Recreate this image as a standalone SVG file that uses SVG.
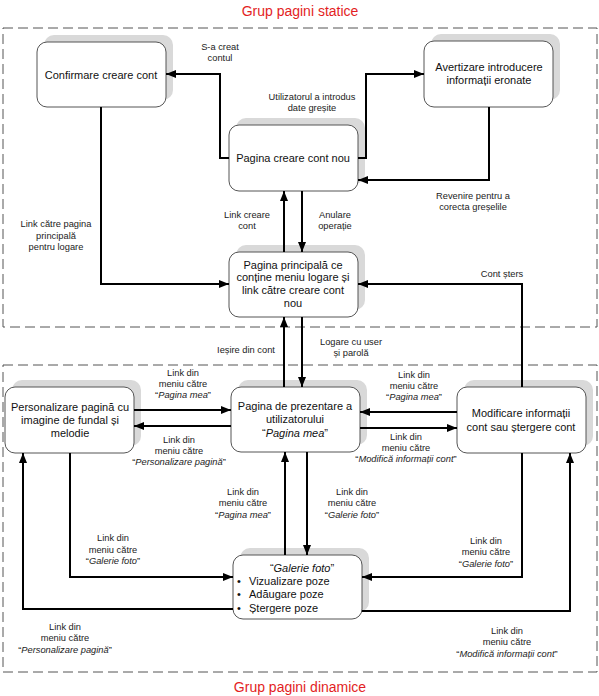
<svg xmlns="http://www.w3.org/2000/svg" width="599" height="696" viewBox="0 0 599 696">
<defs>
<marker id="arr" markerUnits="userSpaceOnUse" markerWidth="11" markerHeight="9" refX="10" refY="4" orient="auto">
<path d="M0,0 L10,4 L0,8 z" fill="#000"/>
</marker>
<style>
.title{font-family:"Liberation Sans",Arial,sans-serif;font-size:14px;fill:#e31e24;text-anchor:middle}
.grp{fill:none;stroke:#555;stroke-width:1;stroke-dasharray:10,5}
.sh{fill:#d9d9d9}
.box{fill:#fff;stroke:#555;stroke-width:1}
.nt{font-family:"Liberation Sans",Arial,sans-serif;font-size:11px;fill:#111;text-anchor:middle}
.bl{font-family:"Liberation Sans",Arial,sans-serif;font-size:11px;fill:#111}
.lb{font-family:"Liberation Sans",Arial,sans-serif;font-size:9.3px;fill:#222;text-anchor:middle}
.it{font-style:italic}
.c{fill:none;stroke:#000;stroke-width:2;marker-end:url(#arr)}
</style>
</defs>
<rect width="599" height="696" fill="#fff"/>
<text class="title" x="300" y="16">Grup pagini statice</text>
<text class="title" x="300" y="692">Grup pagini dinamice</text>
<rect class="grp" x="3" y="28" width="594" height="299"/>
<rect class="grp" x="3" y="365" width="594" height="307"/>

<g id="n-confirmare">
<rect class="sh" x="44" y="35" width="129" height="65" rx="10"/>
<rect class="box" x="37" y="42" width="129" height="65" rx="10"/>
<text class="nt" x="101" y="79">Confirmare creare cont</text>
</g>
<g id="n-avertizare">
<rect class="sh" x="431" y="34" width="129" height="66" rx="10"/>
<rect class="box" x="424" y="41" width="129" height="66" rx="10"/>
<text class="nt" x="489" y="71">Avertizare introducere</text>
<text class="nt" x="489" y="84">informații eronate</text>
</g>
<g id="n-creare">
<rect class="sh" x="236" y="118" width="129" height="66" rx="10"/>
<rect class="box" x="229" y="125" width="129" height="66" rx="10"/>
<text class="nt" x="293" y="162">Pagina creare cont nou</text>
</g>
<g id="n-principala">
<rect class="sh" x="236" y="245" width="129" height="65" rx="10"/>
<rect class="box" x="229" y="252" width="129" height="65" rx="10"/>
<text class="nt" x="293" y="269">Pagina principală ce</text>
<text class="nt" x="293" y="281">conține meniu logare și</text>
<text class="nt" x="293" y="294">link către creare cont</text>
<text class="nt" x="293" y="307">nou</text>
</g>
<g id="n-prezentare">
<rect class="sh" x="238" y="380" width="129" height="65" rx="10"/>
<rect class="box" x="231" y="387" width="129" height="65" rx="10"/>
<text class="nt" x="295" y="410">Pagina de prezentare a</text>
<text class="nt" x="295" y="423">utilizatorului</text>
<text class="nt" x="295" y="437">“<tspan class="it">Pagina mea</tspan>”</text>
</g>
<g id="n-personalizare">
<rect class="sh" x="12" y="380" width="129" height="66" rx="10"/>
<rect class="box" x="5" y="387" width="129" height="66" rx="10"/>
<text class="nt" x="70" y="411">Personalizare pagină cu</text>
<text class="nt" x="70" y="424">imagine de fundal și</text>
<text class="nt" x="70" y="437">melodie</text>
</g>
<g id="n-modificare">
<rect class="sh" x="464" y="380" width="129" height="66" rx="10"/>
<rect class="box" x="457" y="387" width="129" height="66" rx="10"/>
<text class="nt" x="521" y="417">Modificare informații</text>
<text class="nt" x="521" y="431">cont sau ștergere cont</text>
</g>
<g id="n-galerie">
<rect class="sh" x="240" y="548" width="129" height="64" rx="10"/>
<rect class="box" x="233" y="555" width="129" height="64" rx="10"/>
<text class="nt" x="302" y="572">“<tspan class="it">Galerie foto</tspan>”</text>
<text class="bl" x="237" y="585">•</text>
<text class="bl" x="249" y="585">Vizualizare poze</text>
<text class="bl" x="237" y="598">•</text>
<text class="bl" x="249" y="598">Adăugare poze</text>
<text class="bl" x="237" y="612">•</text>
<text class="bl" x="249" y="612">Ștergere poze</text>
</g>

<g id="connectors">
<polyline class="c" points="229,158 220,158 220,74 166,74"/>
<polyline class="c" points="358,158 366,158 366,74 424,74"/>
<polyline class="c" points="489,107 489,180 358,180"/>
<polyline class="c" points="284,252 284,191"/>
<polyline class="c" points="302,191 302,252"/>
<polyline class="c" points="101,107 101,284 229,284"/>
<polyline class="c" points="522,387 522,284 358,284"/>
<polyline class="c" points="284,387 284,317"/>
<polyline class="c" points="302,317 302,387"/>
<polyline class="c" points="134,410 231,410"/>
<polyline class="c" points="231,426 134,426"/>
<polyline class="c" points="457,412 360,412"/>
<polyline class="c" points="360,428 457,428"/>
<polyline class="c" points="285,555 285,452"/>
<polyline class="c" points="307,452 307,555"/>
<polyline class="c" points="70,453 70,577 233,577"/>
<polyline class="c" points="233,609 23,609 23,453"/>
<polyline class="c" points="522,453 522,577 362,577"/>
<polyline class="c" points="362,611 570,611 570,453"/>
</g>

<g id="labels">
<text class="lb" x="220" y="50">S-a creat</text>
<text class="lb" x="220" y="61">contul</text>
<text class="lb" x="312" y="100">Utilizatorul a introdus</text>
<text class="lb" x="312" y="111">date greșite</text>
<text class="lb" x="473" y="199">Revenire pentru a</text>
<text class="lb" x="473" y="210">corecta greșelile</text>
<text class="lb" x="247" y="218">Link creare</text>
<text class="lb" x="247" y="229">cont</text>
<text class="lb" x="335" y="218">Anulare</text>
<text class="lb" x="335" y="229">operație</text>
<text class="lb" x="56" y="227">Link către pagina</text>
<text class="lb" x="56" y="239">principală</text>
<text class="lb" x="56" y="250">pentru logare</text>
<text class="lb" x="502" y="277">Cont șters</text>
<text class="lb" x="246" y="353">Ieșire din cont</text>
<text class="lb" x="351" y="345">Logare cu user</text>
<text class="lb" x="351" y="356">și parolă</text>
<text class="lb" x="183" y="376">Link din</text>
<text class="lb" x="183" y="387">meniu către</text>
<text class="lb" x="183" y="398">“<tspan class="it">Pagina mea</tspan>”</text>
<text class="lb" x="179" y="443">Link din</text>
<text class="lb" x="179" y="454">meniu către</text>
<text class="lb" x="179" y="465">“<tspan class="it">Personalizare pagină</tspan>”</text>
<text class="lb" x="414" y="378">Link din</text>
<text class="lb" x="414" y="389">meniu către</text>
<text class="lb" x="414" y="400">“<tspan class="it">Pagina mea</tspan>”</text>
<text class="lb" x="406" y="440">Link din</text>
<text class="lb" x="406" y="451">meniu către</text>
<text class="lb" x="406" y="462">“<tspan class="it">Modifică informații cont</tspan>”</text>
<text class="lb" x="243" y="495">Link din</text>
<text class="lb" x="243" y="506">meniu către</text>
<text class="lb" x="243" y="518">“<tspan class="it">Pagina mea</tspan>”</text>
<text class="lb" x="352" y="495">Link din</text>
<text class="lb" x="352" y="506">meniu către</text>
<text class="lb" x="352" y="518">“<tspan class="it">Galerie foto</tspan>”</text>
<text class="lb" x="113" y="541">Link din</text>
<text class="lb" x="113" y="553">meniu către</text>
<text class="lb" x="113" y="564">“<tspan class="it">Galerie foto</tspan>”</text>
<text class="lb" x="65" y="630">Link din</text>
<text class="lb" x="65" y="641">meniu către</text>
<text class="lb" x="65" y="653">“<tspan class="it">Personalizare pagină</tspan>”</text>
<text class="lb" x="486" y="544">Link din</text>
<text class="lb" x="486" y="555">meniu către</text>
<text class="lb" x="486" y="567">“<tspan class="it">Galerie foto</tspan>”</text>
<text class="lb" x="507" y="634">Link din</text>
<text class="lb" x="507" y="645">meniu către</text>
<text class="lb" x="507" y="657">“<tspan class="it">Modifică informații cont</tspan>”</text>
</g>
</svg>
